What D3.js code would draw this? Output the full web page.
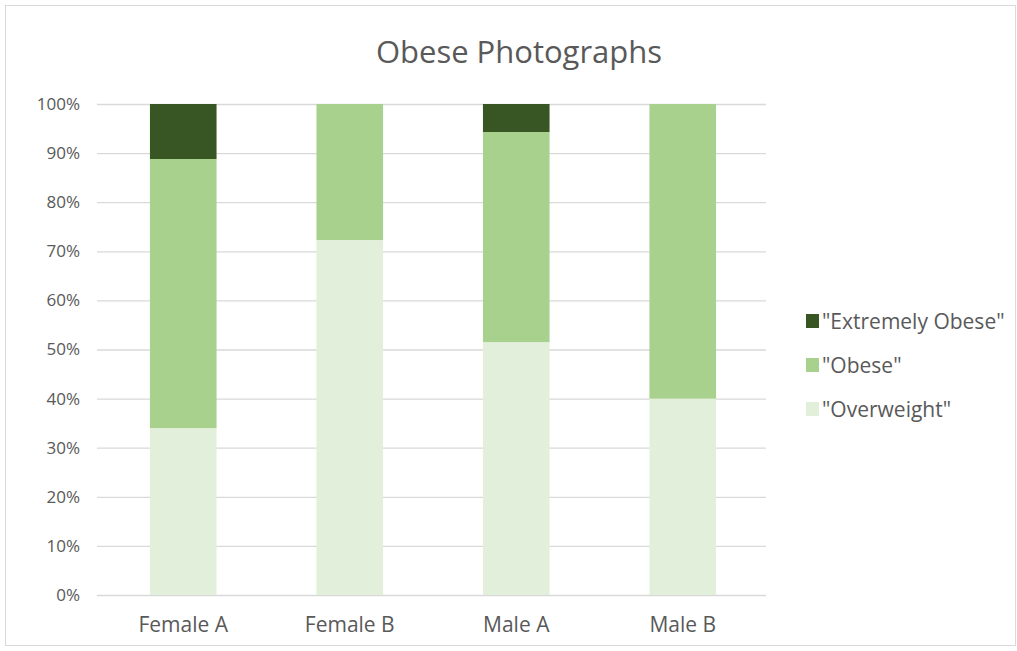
<!DOCTYPE html>
<html><head><meta charset="utf-8">
<script src="https://cdn.jsdelivr.net/npm/d3@7"></script>
<style>body{margin:0;background:#fff;} svg{display:block;}</style>
</head><body>
<svg id="c" width="1017" height="651"></svg>
<script>
const categories = ["Female A", "Female B", "Male A", "Male B"];
const seriesNames = ["\"Overweight\"", "\"Obese\"", "\"Extremely Obese\""];
const overweight = [34.0, 72.3, 51.5, 40.0];
const obese = [54.8, 27.7, 42.8, 60.0];
const extremelyObese = [11.2, 0, 5.7, 0];
const yTicks = [0,10,20,30,40,50,60,70,80,90,100];
const colors = ["#e2efda", "#a9d18e", "#375623"];

const svg = d3.select("#c");
const font = "'Open Sans', 'Liberation Sans', sans-serif";
svg.append("rect").attr("x",5.5).attr("y",5.5).attr("width",1010).attr("height",640)
  .attr("fill","#fff").attr("stroke","#d9d9d9");

const x = d3.scaleBand().domain(categories).range([100,766]).paddingInner(0.6).paddingOuter(0.3);
const y = d3.scaleLinear().domain([0,100]).range([595,104]);

svg.append("text").attr("x",519).attr("y",63).attr("text-anchor","middle")
  .attr("font-family",font).attr("font-size",31).attr("fill","#595959").text("Obese Photographs");

const gy = svg.append("g").attr("transform","translate(97,0)")
  .call(d3.axisLeft(y).tickValues(yTicks).tickSize(-669).tickFormat(d=>d+"%").tickPadding(17));
gy.select(".domain").remove();
gy.selectAll(".tick line").attr("stroke","#d9d9d9").attr("stroke-width",1.3);
gy.selectAll(".tick text").attr("font-family",font).attr("font-size",17).attr("fill","#595959");

const data = categories.map((c,i)=>({cat:c, ow:overweight[i], ob:obese[i], ex:extremelyObese[i]}));
const stack = d3.stack().keys(["ow","ob","ex"])(data);
svg.append("g").selectAll("g").data(stack).join("g").attr("fill",(d,i)=>colors[i])
  .selectAll("rect").data(d=>d).join("rect")
  .attr("x",d=>x(d.data.cat)).attr("width",x.bandwidth())
  .attr("y",d=>y(d[1])).attr("height",d=>y(d[0])-y(d[1]));

const gx = svg.append("g").attr("transform","translate(0,595)")
  .call(d3.axisBottom(x).tickSize(0).tickPadding(22));
gx.select(".domain").remove();
gx.selectAll(".tick text").attr("font-family",font).attr("font-size",21).attr("fill","#595959");

const legendItems = [2,1,0];
const lg = svg.append("g");
legendItems.forEach((si,k)=>{
  const yy = 321 + k*44;
  lg.append("rect").attr("x",806).attr("y",yy-7).attr("width",13).attr("height",14).attr("fill",colors[si]);
  lg.append("text").attr("x",822).attr("y",yy+7.5).attr("font-family",font).attr("font-size",21)
    .attr("fill","#595959").text(seriesNames[si]);
});
</script>
</body></html>
